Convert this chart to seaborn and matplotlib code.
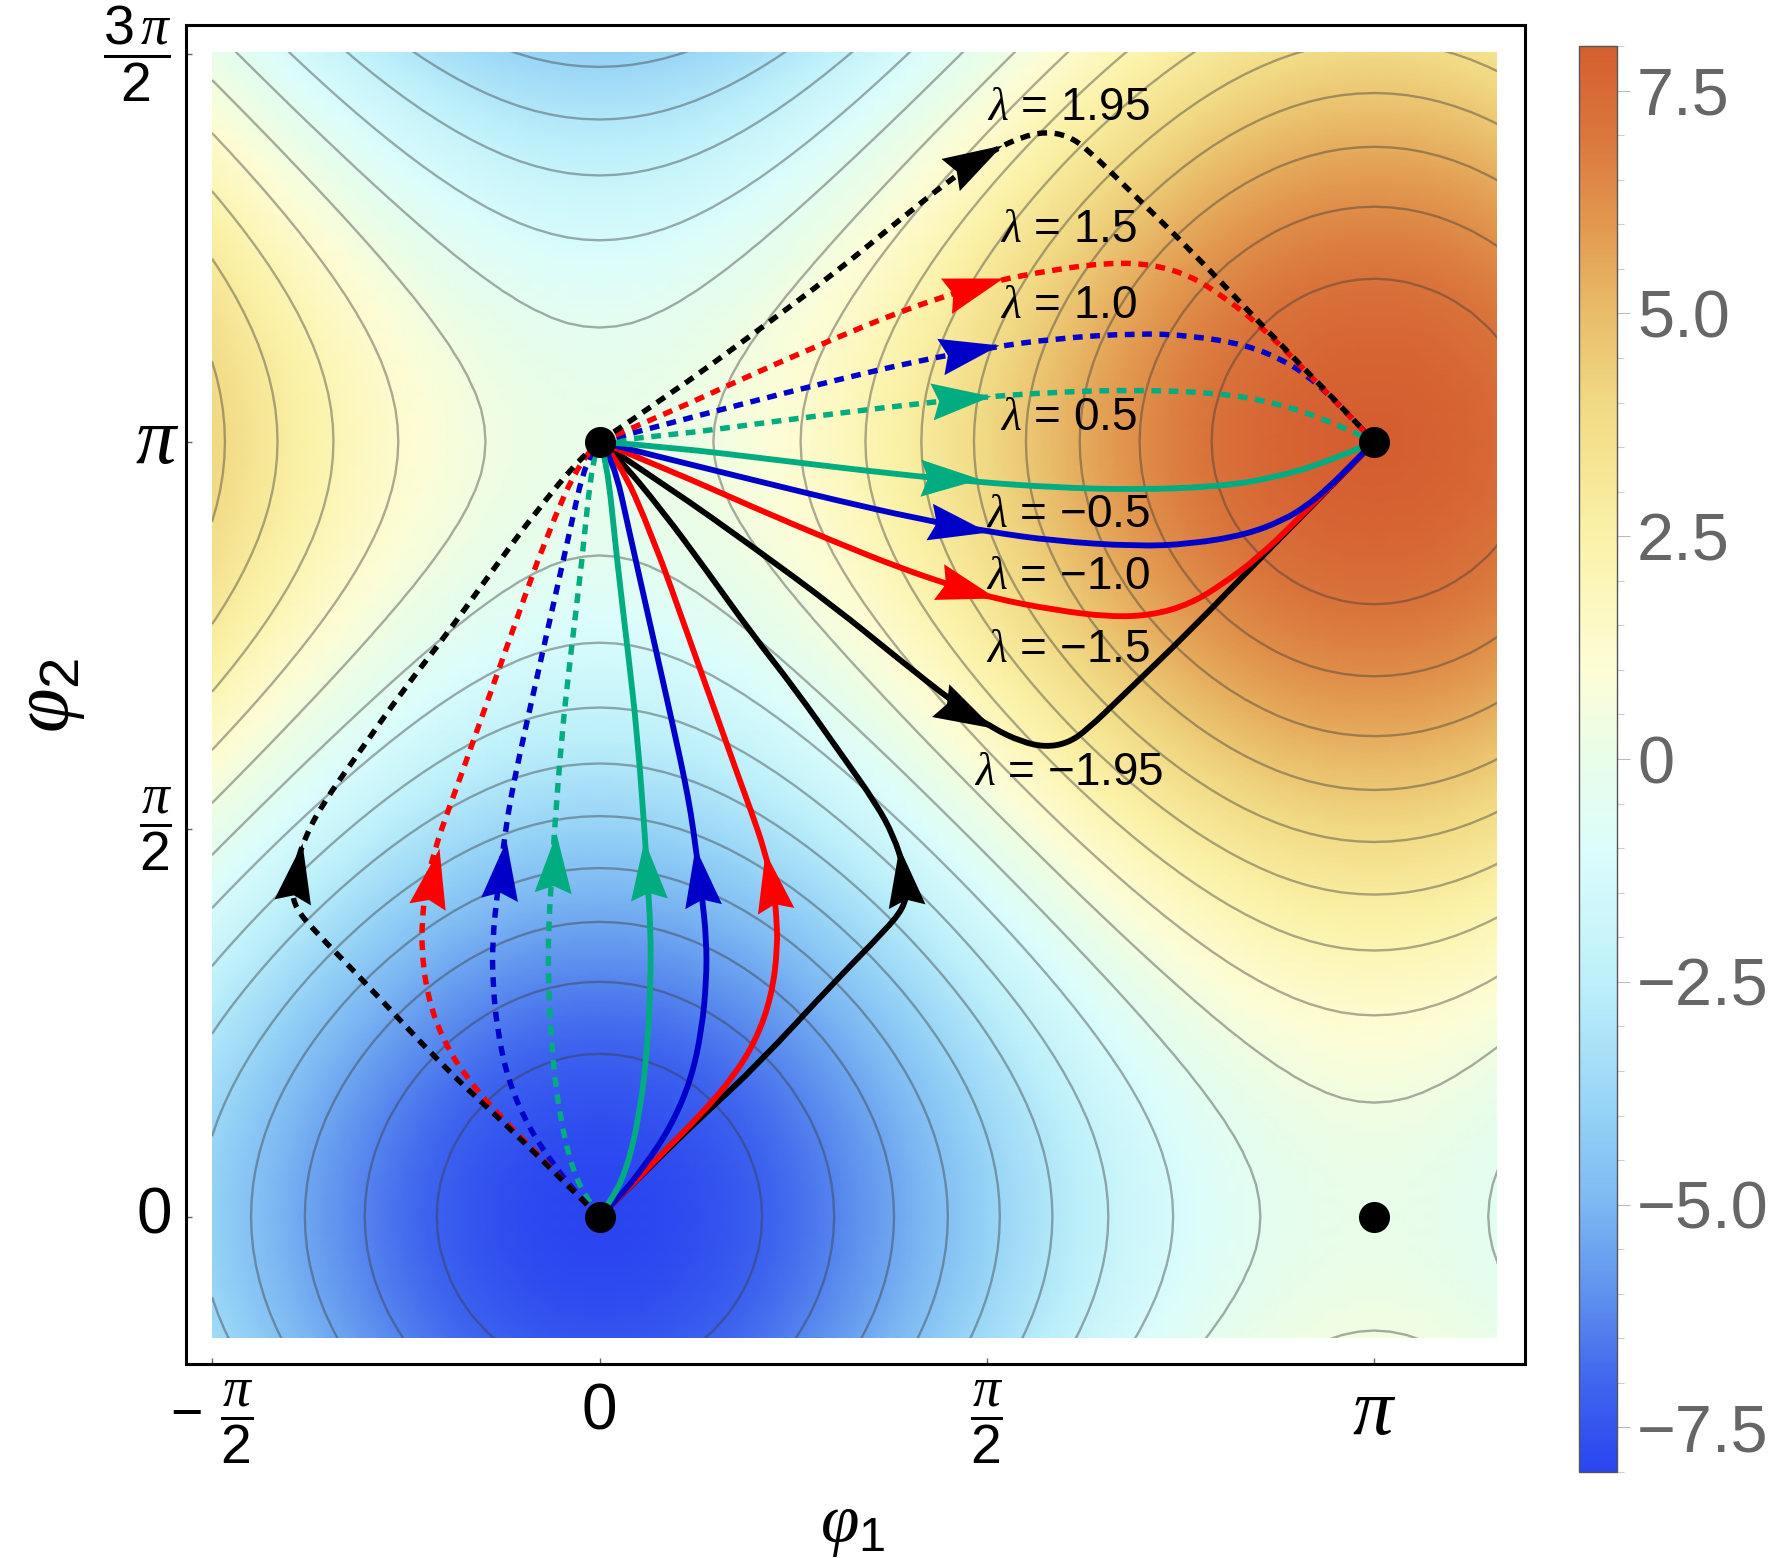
# coding: utf-8
import numpy as np
import pandas as pd
import matplotlib
matplotlib.use('Agg')
import matplotlib.pyplot as plt
import seaborn as sns
from matplotlib.colors import LinearSegmentedColormap
from matplotlib.markers import MarkerStyle
from matplotlib.patches import PathPatch
from matplotlib.path import Path
from matplotlib.transforms import Affine2D

# potential read along one angle, from -pi/2 in steps of pi/48
profile = [0.000, -0.262, -0.522, -0.780, -1.035, -1.286, -1.531, -1.769,
           -2.000, -2.222, -2.435, -2.637, -2.828, -3.007, -3.173, -3.326,
           -3.464, -3.587, -3.696, -3.788, -3.864, -3.923, -3.966, -3.991,
           -4.000, -3.991, -3.966, -3.923, -3.864, -3.788, -3.696, -3.587,
           -3.464, -3.326, -3.173, -3.007, -2.828, -2.637, -2.435, -2.222,
           -2.000, -1.769, -1.531, -1.286, -1.035, -0.780, -0.522, -0.262,
           0.000, 0.262, 0.522, 0.780, 1.035, 1.286, 1.531, 1.769,
           2.000, 2.222, 2.435, 2.637, 2.828, 3.007, 3.173, 3.326,
           3.464, 3.587, 3.696, 3.788, 3.864, 3.923, 3.966, 3.991,
           4.000, 3.991, 3.966, 3.923, 3.864, 3.788, 3.696, 3.587,
           3.464, 3.326, 3.173, 3.007, 2.828, 2.637, 2.435, 2.222,
           2.000, 1.769, 1.531, 1.286, 1.035, 0.780, 0.522, 0.262,
           0.000, -0.262]

contour_levels = [-7.16, -6.32, -5.47, -4.63, -3.79, -2.95, -2.11, -1.26, -0.42,
                  0.42, 1.26, 2.11, 2.95, 3.79, 4.63, 5.47, 6.32, 7.16]

cmap_values = [-8, -7, -6, -5, -4, -2.5, -1, 0, 1, 2.5, 4, 5, 6, 7, 8]
cmap_colors = ['#2a45f0', '#3f66ee', '#5f92ee', '#7db8f3', '#95d2f6', '#bdf0fa',
               '#dcfdfb', '#e9fde9', '#fdfdd6', '#fbf2a8', '#f1d983', '#e9bd6a',
               '#e2994f', '#da773d', '#d55e30']

# all angles below are in units of pi
# (0, pi) -> (pi, pi): x and distance from phi_2 = pi, solid below, dashed above
green_right_x = [0, .091, .232, .374, .487, .586, .692, .798, .869, .940, 1]
green_solid_d = [0, .007, .024, .041, .052, .059, .062, .058, .047, .026, 0]
green_dash_d = [0, .008, .027, .045, .057, .064, .067, .063, .051, .028, 0]
blue_right_x = [0, .091, .197, .303, .409, .501, .586, .692, .763, .834, .883, .912, .940, .970, 1]
blue_solid_d = [0, .023, .049, .075, .099, .116, .128, .135, .132, .120, .101, .083, .060, .030, 0]
blue_dash_d = [0, .024, .052, .079, .104, .121, .133, .140, .137, .125, .105, .086, .062, .031, 0]
red_right_x = [0, .091, .197, .303, .388, .459, .508, .586, .657, .713, .763, .805, .848, .905, 1]
red_solid_d = [0, .037, .084, .129, .163, .187, .202, .217, .226, .224, .209, .183, .151, .097, 0]
red_dash_d = [0, .038, .087, .133, .168, .192, .207, .222, .231, .229, .214, .187, .154, .098, 0]
black_right_x = [0, .091, .197, .303, .388, .459, .508, .544, .575, .604, .629, .678, .763, .855, .940, 1]
black_solid_d = [0, .060, .135, .213, .282, .338, .370, .387, .394, .389, .372, .325, .243, .148, .062, 0]
black_dash_d = [0, .061, .138, .217, .287, .343, .376, .393, .400, .395, .378, .330, .247, .150, .063, 0]

# (0, 0) -> (0, pi): solid on the right, dashed is its mirror on the left
green_up_x = [0, .014, .035, .052, .062, .066, .066, .062, .059, .049, .037, .023, .009, 0]
green_up_y = [0, .019, .060, .133, .219, .305, .370, .434, .486, .619, .727, .843, .981, 1]
blue_up_x = [0, .023, .058, .092, .118, .132, .138, .138, .132, .124, .118, .110, .098, .069, .040, .017, 0]
blue_up_y = [0, .022, .065, .116, .176, .241, .305, .357, .417, .477, .520, .563, .619, .748, .877, .981, 1]
red_up_x = [0, .040, .081, .132, .173, .202, .222, .230, .228, .225, .213, .195, .181, .161, .115, .069, .023, 0]
red_up_y = [0, .039, .082, .133, .181, .228, .284, .348, .391, .421, .473, .525, .563, .619, .748, .877, .981, 1]
black_up_x = [0, .040, .081, .138, .202, .305, .369, .392, .397, .392, .380, .357, .311, .253, .196, .138, .081, .023, 0]
black_up_y = [0, .039, .080, .135, .194, .305, .370, .398, .421, .452, .490, .533, .598, .680, .753, .834, .911, .981, 1]

# arrow tips and the middle of their backs: tip x, tip y, back x, back y
right_arrows_solid = [(.4905, .0486, .430, .0473), (.501, .116, .439, .105),
                      (.512, .202, .449, .184), (.508, .370, .453, .341)]
right_arrows_dash = [(.5047, .0589, .429, .052), (.515, .1247, .440, .110),
                     (.521, .2108, .451, .189), (.519, .383, .454, .346)]
up_arrows_solid = [(.0576, .486, .0628, .4237), (.1238, .4774, .1325, .4138),
                   (.2131, .471, .2246, .4077), (.386, .4774, .3946, .4108)]
up_arrows_dash = [(-.0565, .4946, -.0605, .4237), (-.121, .486, -.1296, .4129),
                  (-.2074, .4753, -.2218, .405), (-.384, .4817, -.396, .4095)]

curve_colors = ['#00ac80', '#0000c8', '#ff0000', '#000000']

dots_x = [0, 0, 1, 1]
dots_y = [0, 1, 0, 1]

label_x = 0.605
label_y = [1.431, 1.273, 1.175, 1.031, 0.906, 0.826, 0.731, 0.573]
label_text = ['1.95', '1.5', '1.0', '0.5', '\u22120.5', '\u22121.0', '\u22121.5', '\u22121.95']

W, H = 1784, 1558


def rect(left, top, right, bottom):
    return [left / W, 1 - bottom / H, (right - left) / W, (bottom - top) / H]


sns.set_style('white')
plt.rcParams['font.family'] = ['Liberation Sans', 'DejaVu Sans']
plt.rcParams['text.color'] = 'black'
plt.rcParams['xtick.color'] = 'black'
plt.rcParams['ytick.color'] = 'black'
plt.rcParams['mathtext.fontset'] = 'custom'
plt.rcParams['mathtext.rm'] = 'Liberation Sans'
plt.rcParams['mathtext.it'] = 'Liberation Serif:italic'
plt.rcParams['mathtext.bf'] = 'Liberation Sans:bold'

fig = plt.figure(figsize=(W / 100, H / 100), dpi=100)

cmap = LinearSegmentedColormap.from_list(
    'potential', [((v + 8) / 16, c) for v, c in zip(cmap_values, cmap_colors)], N=512)

# field: smooth heatmap on its own axes, inset from the frame
field = pd.DataFrame(np.add.outer(profile, profile))
hm = fig.add_axes(rect(212, 51.7, 1497, 1338))
sns.heatmap(field, ax=hm, cmap=cmap, vmin=-8, vmax=8, cbar=False,
            xticklabels=False, yticklabels=False, shading='gouraud')
hm.contour(field.values, levels=contour_levels, colors='#3a3a3a', linewidths=1.7,
           linestyles='solid', alpha=0.42)
hm.set_xlim(0, 79.6)
hm.set_ylim(16.48, 96.14)
hm.axis('off')

# frame, ticks and curves, in units of pi
ax = fig.add_axes(rect(185.5, 25, 1525, 1364), facecolor='none')
ax.set_zorder(2)


# curve through the read points: each point is a control point of a quadratic piece
def draw_curve(xs, ys, color, lw, linestyle='solid'):
    pts = np.column_stack([xs, ys])
    verts = [pts[0]]
    codes = [Path.MOVETO]
    for i in range(1, len(pts) - 1):
        end = pts[-1] if i == len(pts) - 2 else (pts[i] + pts[i + 1]) / 2
        verts += [pts[i], end]
        codes += [Path.CURVE3, Path.CURVE3]
    ax.add_patch(PathPatch(Path(verts, codes), fill=False, edgecolor=color, lw=lw,
                           linestyle=linestyle, capstyle='butt', joinstyle='round'))


right_x = [green_right_x, blue_right_x, red_right_x, black_right_x]
solid_d = [green_solid_d, blue_solid_d, red_solid_d, black_solid_d]
dash_d = [green_dash_d, blue_dash_d, red_dash_d, black_dash_d]
up_x = [green_up_x, blue_up_x, red_up_x, black_up_x]
up_y = [green_up_y, blue_up_y, red_up_y, black_up_y]

dash_style = (0, (1.8, 1.4))
for i in [0, 1, 2, 3]:
    draw_curve(right_x[i], 1 + np.array(dash_d[i]), curve_colors[i], 3.9, dash_style)
    draw_curve(-np.array(up_x[i]), up_y[i], curve_colors[i], 3.9, dash_style)
for i in [3, 2, 1, 0]:
    draw_curve(right_x[i], 1 - np.array(solid_d[i]), curve_colors[i], 4.2)
    draw_curve(up_x[i], up_y[i], curve_colors[i], 4.2)

# notched arrow head, tip at the origin pointing along +x
head = Path([(0, 0), (-1, 0.31), (-0.88, 0), (-1, -0.31), (0, 0)],
            [Path.MOVETO, Path.LINETO, Path.LINETO, Path.LINETO, Path.CLOSEPOLY])


def draw_arrow(tx, ty, bx, by, color):
    angle = np.degrees(np.arctan2(ty - by, tx - bx))
    marker = MarkerStyle(head, transform=Affine2D().rotate_deg(angle))
    ax.plot([tx], [ty], marker=marker, ms=86, color=color, mew=0, ls='none', zorder=5)


for i in range(4):
    tx, d, bx, bd = right_arrows_solid[i]
    draw_arrow(tx, 1 - d, bx, 1 - bd, curve_colors[i])
    tx, d, bx, bd = right_arrows_dash[i]
    draw_arrow(tx, 1 + d, bx, 1 + bd, curve_colors[i])
    tx, ty, bx, by = up_arrows_solid[i]
    draw_arrow(tx, ty, bx, by, curve_colors[i])
    tx, ty, bx, by = up_arrows_dash[i]
    draw_arrow(tx, ty, bx, by, curve_colors[i])

sns.scatterplot(x=dots_x, y=dots_y, color='black', s=500, linewidth=0, ax=ax, zorder=6,
                legend=False)

for y, t in zip(label_y, label_text):
    ax.text(label_x, y, r'$\lambda$ = ' + t, fontsize=33, ha='center', va='center', zorder=7)

ax.set_xlim(-0.5342, 1.1942)
ax.set_ylim(-0.1901, 1.5377)
ax.set_xticks([-0.5, 0, 0.5, 1])
ax.set_yticks([0, 0.5, 1, 1.5])
ax.set_xticklabels([r'$-\;\,\dfrac{\pi}{2}$', '0', r'$\dfrac{\pi}{2}$', r'$\pi$'])
ax.set_yticklabels(['0', r'$\dfrac{\pi}{2}$', r'$\pi$', r'$\dfrac{3\,\pi}{2}$'])
ax.tick_params(axis='both', direction='in', length=4.5, width=1, color='#666666',
               bottom=True, left=True, top=False, right=False)
ax.tick_params(axis='x', pad=35)
ax.tick_params(axis='y', pad=10)
for t, size, shift in zip(ax.get_xticklabels(), [40, 46, 40, 58], [-0.0075, 0, -0.0075, 0]):
    t.set_fontsize(size)
    t.set_va('center')
    t.set_y(shift)
for t, size, shift in zip(ax.get_yticklabels(), [46, 40, 58, 40], [0, 0, 0.006, 0]):
    t.set_fontsize(size)
    t.set_va('center')
    t.set_x(shift)
for s in ax.spines.values():
    s.set_visible(True)
    s.set_linewidth(2.2)
    s.set_color('black')

fig.text(853 / W, 1 - 1527 / H, r'$\varphi_1$', fontsize=50, ha='center', va='center')
fig.text(49 / W, 1 - 695 / H, r'$\varphi_2$', fontsize=58, rotation=90, ha='center', va='center')

# colour bar
cax = fig.add_axes(rect(1579, 46, 1617, 1472))
cb = fig.colorbar(hm.collections[0], cax=cax)
cb.set_ticks([-7.5, -5, -2.5, 0, 2.5, 5, 7.5])
cb.set_ticklabels(['\u22127.5', '\u22125.0', '\u22122.5', '0', '2.5', '5.0', '7.5'])
cb.set_ticks(np.arange(-8, 8.5, 0.5), minor=True)
cax.tick_params(which='major', axis='y', length=9.4, width=0.8, color='#bbbbbb',
                labelcolor='#666666', labelsize=48, pad=5, right=True)
cax.tick_params(which='minor', axis='y', length=5, width=0.8, color='#cccccc', right=True)
cb.outline.set_linewidth(1)
cb.outline.set_edgecolor('#555555')

fig.savefig('out.png', dpi=100)
